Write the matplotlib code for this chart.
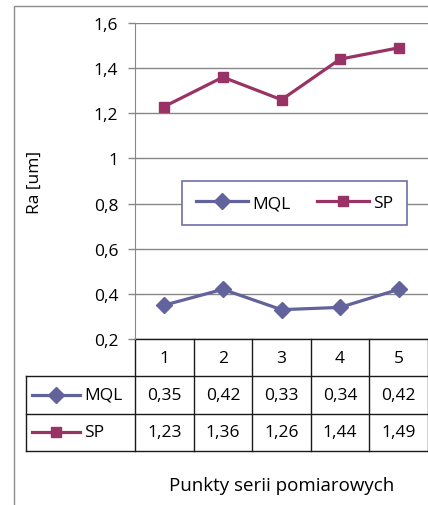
import matplotlib
matplotlib.use("Agg")
import matplotlib.pyplot as plt
from matplotlib.lines import Line2D
from matplotlib.patches import Rectangle
from matplotlib.ticker import FuncFormatter, MultipleLocator

plt.rcParams['font.family'] = ['Open Sans', 'DejaVu Sans']

# dane
punkty = ["1", "2", "3", "4", "5"]
mql = [0.35, 0.42, 0.33, 0.34, 0.42]
sp = [1.23, 1.36, 1.26, 1.44, 1.49]
serie = ["MQL", "SP"]

kol_mql = "#62629c"
kol_sp = "#993366"
szary = "#878787"

def przecinek(v):
    return f"{v:g}".replace(".", ",")

W, H = 428, 506
fig = plt.figure(figsize=(W / 100, H / 100), dpi=100)
ax = fig.add_axes([135 / W, 1 - 340 / H, 293 / W, 316 / H])

x = list(range(len(punkty)))
ax.plot(x, mql, color=kol_mql, lw=2.3, marker="D", ms=8.5, label="MQL")
ax.plot(x, sp, color=kol_sp, lw=2.3, marker="s", ms=7.5, label="SP")

ax.set_xlim(-0.5, len(punkty) - 0.5)
ax.set_ylim(0.2, 1.6)
ax.yaxis.set_major_locator(MultipleLocator(0.2))
ax.yaxis.set_major_formatter(FuncFormatter(lambda v, p: przecinek(round(v, 1))))
ax.grid(axis="y", color=szary, lw=1)
ax.set_axisbelow(True)
ax.set_xticks([])
ax.tick_params(axis="y", length=5, width=1, color=szary, pad=7, labelsize=12.5)
for s in ["top", "right", "bottom"]:
    ax.spines[s].set_visible(False)
ax.spines["left"].set_color(szary)

ax.set_ylabel("Ra [um]", fontsize=12.5)
ax.yaxis.set_label_coords(-0.314, 0.5)
ax.set_xlabel("Punkty serii pomiarowych", fontsize=13.5)
ax.xaxis.set_label_coords(0.5, -0.432)

leg = ax.legend(loc="center", bbox_to_anchor=(0.545, 0.43), ncol=2, fontsize=12.5,
                frameon=True, fancybox=False, framealpha=1, edgecolor="#6f6fa8",
                handlelength=3.0, handletextpad=0.25, columnspacing=1.5, borderpad=0.8)
leg.get_frame().set_linewidth(1.2)

# tabela danych pod wykresem (x w danych, y w osiach)
tr = ax.get_xaxis_transform()
wys = 112 / 316 / 3            # wysokosc wiersza
lewo = -0.5 - 109 / 58.6       # lewa krawedz kolumny z nazwami
prawo = len(punkty) - 0.5
lk = dict(color="#1a1a1a", lw=1, transform=tr, clip_on=False)

for k in range(4):
    x0 = -0.5 if k == 0 else lewo
    ax.add_line(Line2D([x0, prawo], [-k * wys, -k * wys], **lk))
for j in range(len(punkty) + 1):
    ax.add_line(Line2D([j - 0.5, j - 0.5], [0, -3 * wys], **lk))
ax.add_line(Line2D([lewo, lewo], [-wys, -3 * wys], **lk))

for j, p in enumerate(punkty):
    ax.text(j, -0.5 * wys, p, transform=tr, ha="center", va="center", fontsize=12.5)
for i, vals in enumerate([mql, sp]):
    for j, v in enumerate(vals):
        ax.text(j, -(1.5 + i) * wys, przecinek(v), transform=tr, ha="center", va="center",
                fontsize=12.5)

# legenda w tabeli
for i, (nazwa, kol, mk, ms) in enumerate(zip(serie, [kol_mql, kol_sp], ["D", "s"], [8.5, 6.5])):
    yy = -(1.5 + i) * wys
    ax.add_line(Line2D([(32 - 135) / 293, (80 - 135) / 293], [yy, yy], transform=ax.transAxes,
                       color=kol, lw=2.3, clip_on=False))
    ax.add_line(Line2D([(56 - 135) / 293], [yy], transform=ax.transAxes, color=kol,
                       marker=mk, ms=ms, clip_on=False))
    ax.text((84 - 135) / 293, yy, nazwa, transform=ax.transAxes, ha="left", va="center",
            fontsize=12.5)

# ramka obszaru wykresu
fig.add_artist(Rectangle((14 / W, -0.1), 2, 1 - 7 / H + 0.1, transform=fig.transFigure,
                         fill=False, ec="#8c8c8c", lw=1))

fig.savefig("out.png", dpi=100)
